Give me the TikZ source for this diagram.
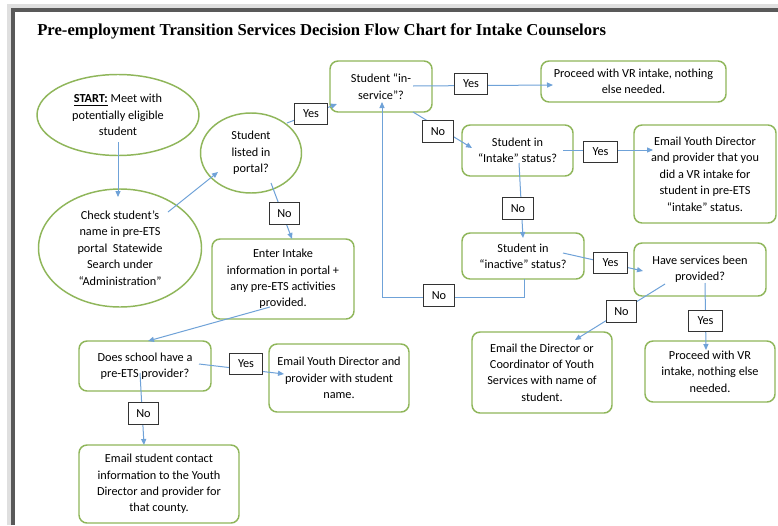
\documentclass[tikz,border=0pt]{standalone}
\usepackage{fontspec}
\setmainfont{Carlito}
\newfontfamily\titlefont{Liberation Serif}
\usetikzlibrary{arrows.meta,calc,shapes.geometric}
\definecolor{boxgreen}{HTML}{8FB65A}
\definecolor{connblue}{HTML}{6FA2D8}
\definecolor{framegray}{HTML}{595959}
\tikzset{
  txt/.style={font=\fontsize{9.2pt}{12.3pt}\selectfont, align=center, inner sep=0pt},
  gbox/.style={txt, draw=boxgreen, line width=1.1pt, rounded corners=6pt, fill=white},
  gell/.style={txt, draw=boxgreen, line width=1.1pt, ellipse, fill=white},
  lbl/.style={txt, draw=black!80, line width=0.8pt, fill=white, minimum height=16pt, minimum width=25pt},
  lblno/.style={lbl, minimum width=23pt},
  conn/.style={draw=connblue, line width=0.75pt, -{Triangle[length=4.5pt,width=3.8pt]}},
}
\begin{document}
\begin{tikzpicture}[x=0.75pt,y=-0.75pt]
\useasboundingbox (0,0) rectangle (778,525);
\fill[white] (0,0) rectangle (778,525);
% frame
\draw[gray!25, line width=3pt] (9,525) -- (9,6) -- (778,6);
\draw[framegray, line width=3pt] (13,525) -- (13,10) -- (778,10);
% title
\node[anchor=base west, inner sep=0pt, font=\titlefont\bfseries\fontsize{12.5pt}{14pt}\selectfont] (title) at (37,35) {Pre-employment Transition Services Decision Flow Chart for Intake Counselors};
% nodes
\node[gell, minimum width=162*0.75pt, minimum height=81*0.75pt] (start) at (118,115) {\textbf{\underline{START:}} Meet with\\potentially eligible\\student};
\node[gell, minimum width=163*0.75pt, minimum height=118*0.75pt] (check) at (120,248) {Check student’s\\name in pre-ETS\\portal\ \ Statewide\\Search under\\“Administration”};
\node[gell, minimum width=101*0.75pt, minimum height=80*0.75pt] (listed) at (251,153) {Student\\listed in\\portal?};
\node[gbox, minimum width=102*0.75pt, minimum height=51*0.75pt] (inservice) at (381,86.5) {Student “in-\\service”?};
\node[gbox, minimum width=185*0.75pt, minimum height=41*0.75pt] (proceedA) at (633.5,81.5) {Proceed with VR intake, nothing\\else needed.};
\node[gbox, minimum width=111*0.75pt, minimum height=51*0.75pt] (intake) at (517.5,150.5) {Student in\\“Intake” status?};
\node[gbox, minimum width=142*0.75pt, minimum height=98*0.75pt] (emailyd) at (705,174) {Email Youth Director\\and provider that you\\did a VR intake for\\student in pre-ETS\\“intake” status.};
\node[gbox, minimum width=122*0.75pt, minimum height=46*0.75pt] (inactive) at (523,256) {Student in\\“inactive” status?};
\node[gbox, minimum width=132*0.75pt, minimum height=53*0.75pt] (have) at (700,269.5) {Have services been\\provided?};
\node[gbox, minimum width=140*0.75pt, minimum height=81*0.75pt] (emaildir) at (542,372.5) {Email the Director or\\Coordinator of Youth\\Services with name of\\student.};
\node[gbox, minimum width=130*0.75pt, minimum height=61*0.75pt] (proceedB) at (710,371.5) {Proceed with VR\\intake, nothing else\\needed.};
\node[gbox, minimum width=142*0.75pt, minimum height=80*0.75pt] (enter) at (283,279) {Enter Intake\\information in portal +\\any pre-ETS activities\\provided.};
\node[gbox, minimum width=132*0.75pt, minimum height=50*0.75pt] (school) at (145,366) {Does school have a\\pre-ETS provider?};
\node[gbox, minimum width=140*0.75pt, minimum height=68*0.75pt] (emailprov) at (339,378) {Email Youth Director and\\provider with student\\name.};
\node[gbox, minimum width=160*0.75pt, minimum height=78*0.75pt] (emailstud) at (159,484) {Email student contact\\information to the Youth\\Director and provider for\\that county.};
% connectors
\draw[conn] ($(start)+(0,27)$) -- ($(check)+(-2,-51)$);
\draw[conn] ($(check)+(48,-36)$) -- ($(listed)+(-33,19)$);
\draw[conn] ($(listed)+(36,-30)$) -- ($(inservice)+(-44,17.5)$);
\draw[conn] ($(listed)+(20,30)$) -- ($(enter)+(9,-40)$);
\draw[conn] ($(enter)+(-13,28)$) -- ($(school)+(3,-25)$);
\draw[conn] ($(school)+(54,-2)$) -- ($(emailprov)+(-55,-4)$);
\draw[conn] ($(school)+(-5,7)$) -- ($(emailstud)+(-15,-39)$);
\draw[conn] ($(inservice)+(32,-0.5)$) -- ($(proceedA)+(-80.5,3.5)$);
\draw[conn] ($(inservice)+(32,25.5)$) -- ($(intake)+(-45.5,-2.5)$);
\draw[conn] ($(intake)+(45.5,-0.5)$) -- ($(emailyd)+(-52,-24)$);
\draw[conn] ($(intake)+(1.5,12.5)$) -- ($(inactive)+(0,-18)$);
\draw[conn] ($(inactive)+(1,23)$) -- ++(0,18) -| ($(inservice)+(1,15.5)$);
\draw[conn] ($(inactive)+(40,-3)$) -- ($(have)+(-57,1.5)$);
\draw[conn] ($(have)+(-35,14.5)$) -- ($(emaildir)+(33,-32.5)$);
\draw[conn] ($(have)+(5,13.5)$) -- ($(proceedB)+(-4,-21.5)$);
% labels
\node[lbl] (yesA) at (311,114) {Yes};
\node[lbl] (yesB) at (471,84) {Yes};
\node[lblno] (noA) at (438,131.5) {No};
\node[lbl] (yesC) at (600.5,152) {Yes};
\node[lblno] (noB) at (518,208.5) {No};
\node[lblno] (noC) at (284.5,213.5) {No};
\node[lblno] (noD) at (439,295.5) {No};
\node[lbl] (yesD) at (610.5,263) {Yes};
\node[lblno] (noE) at (621.5,311.5) {No};
\node[lbl] (yesE) at (705.5,321) {Yes};
\node[lbl] (yesF) at (246,364) {Yes};
\node[lblno] (noF) at (143.5,413.5) {No};
\end{tikzpicture}
\end{document}
